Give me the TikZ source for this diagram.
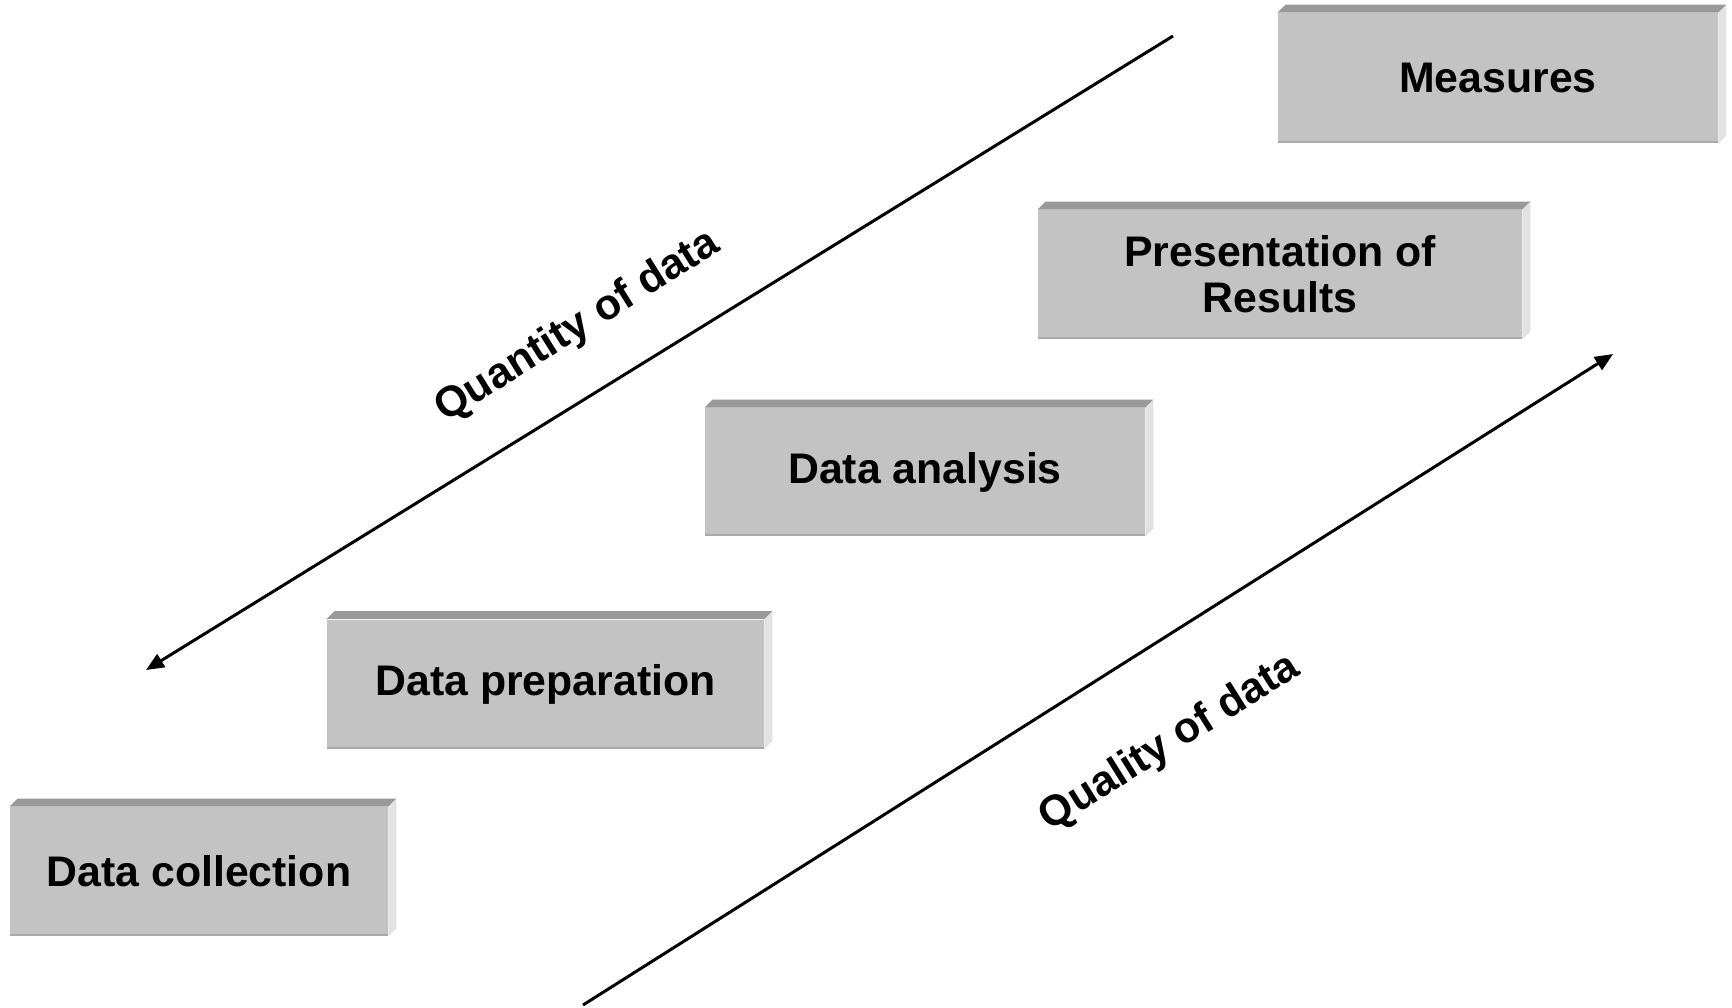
\documentclass[tikz,border=0pt]{standalone}
\usepackage{fontspec}
\setmainfont{Liberation Sans}
\usetikzlibrary{arrows.meta}
\definecolor{frontgray}{RGB}{195,195,195}
\definecolor{topgray}{RGB}{153,153,153}
\definecolor{sidegray}{RGB}{226,226,226}
\definecolor{edgegray}{RGB}{170,170,170}
\tikzset{
  stepbox/.style={rectangle, fill=frontgray, inner sep=0pt, align=center,
    font=\fontsize{21.4pt}{23pt}\selectfont\bfseries},
  axisline/.style={line width=1.5pt, -{Triangle[length=9pt,width=7.5pt]}},
  axislabel/.style={rotate=32, inner sep=0pt, font=\fontsize{21.4pt}{23pt}\selectfont\bfseries},
}
\newcommand{\bevel}[1]{%
  \fill[topgray] (#1.north west) -- ([shift={(8,-8)}]#1.north west) -- ([shift={(8,-8)}]#1.north east) -- (#1.north east) -- cycle;
  \fill[sidegray] (#1.north east) -- ([shift={(8,-8)}]#1.north east) -- ([shift={(8,-8)}]#1.south east) -- (#1.south east) -- cycle;
  \draw[edgegray, line width=1pt] ([yshift=0.5pt]#1.south west) -- ([yshift=0.5pt]#1.south east);
}
\begin{document}
\begin{tikzpicture}[x=0.5pt, y=-0.5pt]
\useasboundingbox[fill=white] (0,0) rectangle (1732,1007);

\node[stepbox, minimum width=189pt, minimum height=64.5pt] (dc) at (199,871.5) {Data collection};
\node[stepbox, minimum width=218.5pt, minimum height=64.5pt] (dp) at (545.5,684) {Data preparation};
\node[stepbox, minimum width=220pt, minimum height=64pt] (da) at (925,472) {Data analysis};
\node[stepbox, minimum width=242pt, minimum height=64.5pt] (pr) at (1280,274.5) {Presentation of\\Results};
\node[stepbox, minimum width=220pt, minimum height=65pt] (me) at (1498,78) {Measures};

\bevel{dc}
\bevel{dp}
\bevel{da}
\bevel{pr}
\bevel{me}

\coordinate (qt1) at (1173,36);
\coordinate (qt2) at (146,670);
\coordinate (ql1) at (583,1005);
\coordinate (ql2) at (1613,354);
\draw[axisline] (qt1) -- (qt2);
\draw[axisline] (ql1) -- (ql2);

\node[axislabel] (qtl) at (578,327) {Quantity of data};
\node[axislabel] (qll) at (1170,743) {Quality of data};
\end{tikzpicture}
\end{document}
